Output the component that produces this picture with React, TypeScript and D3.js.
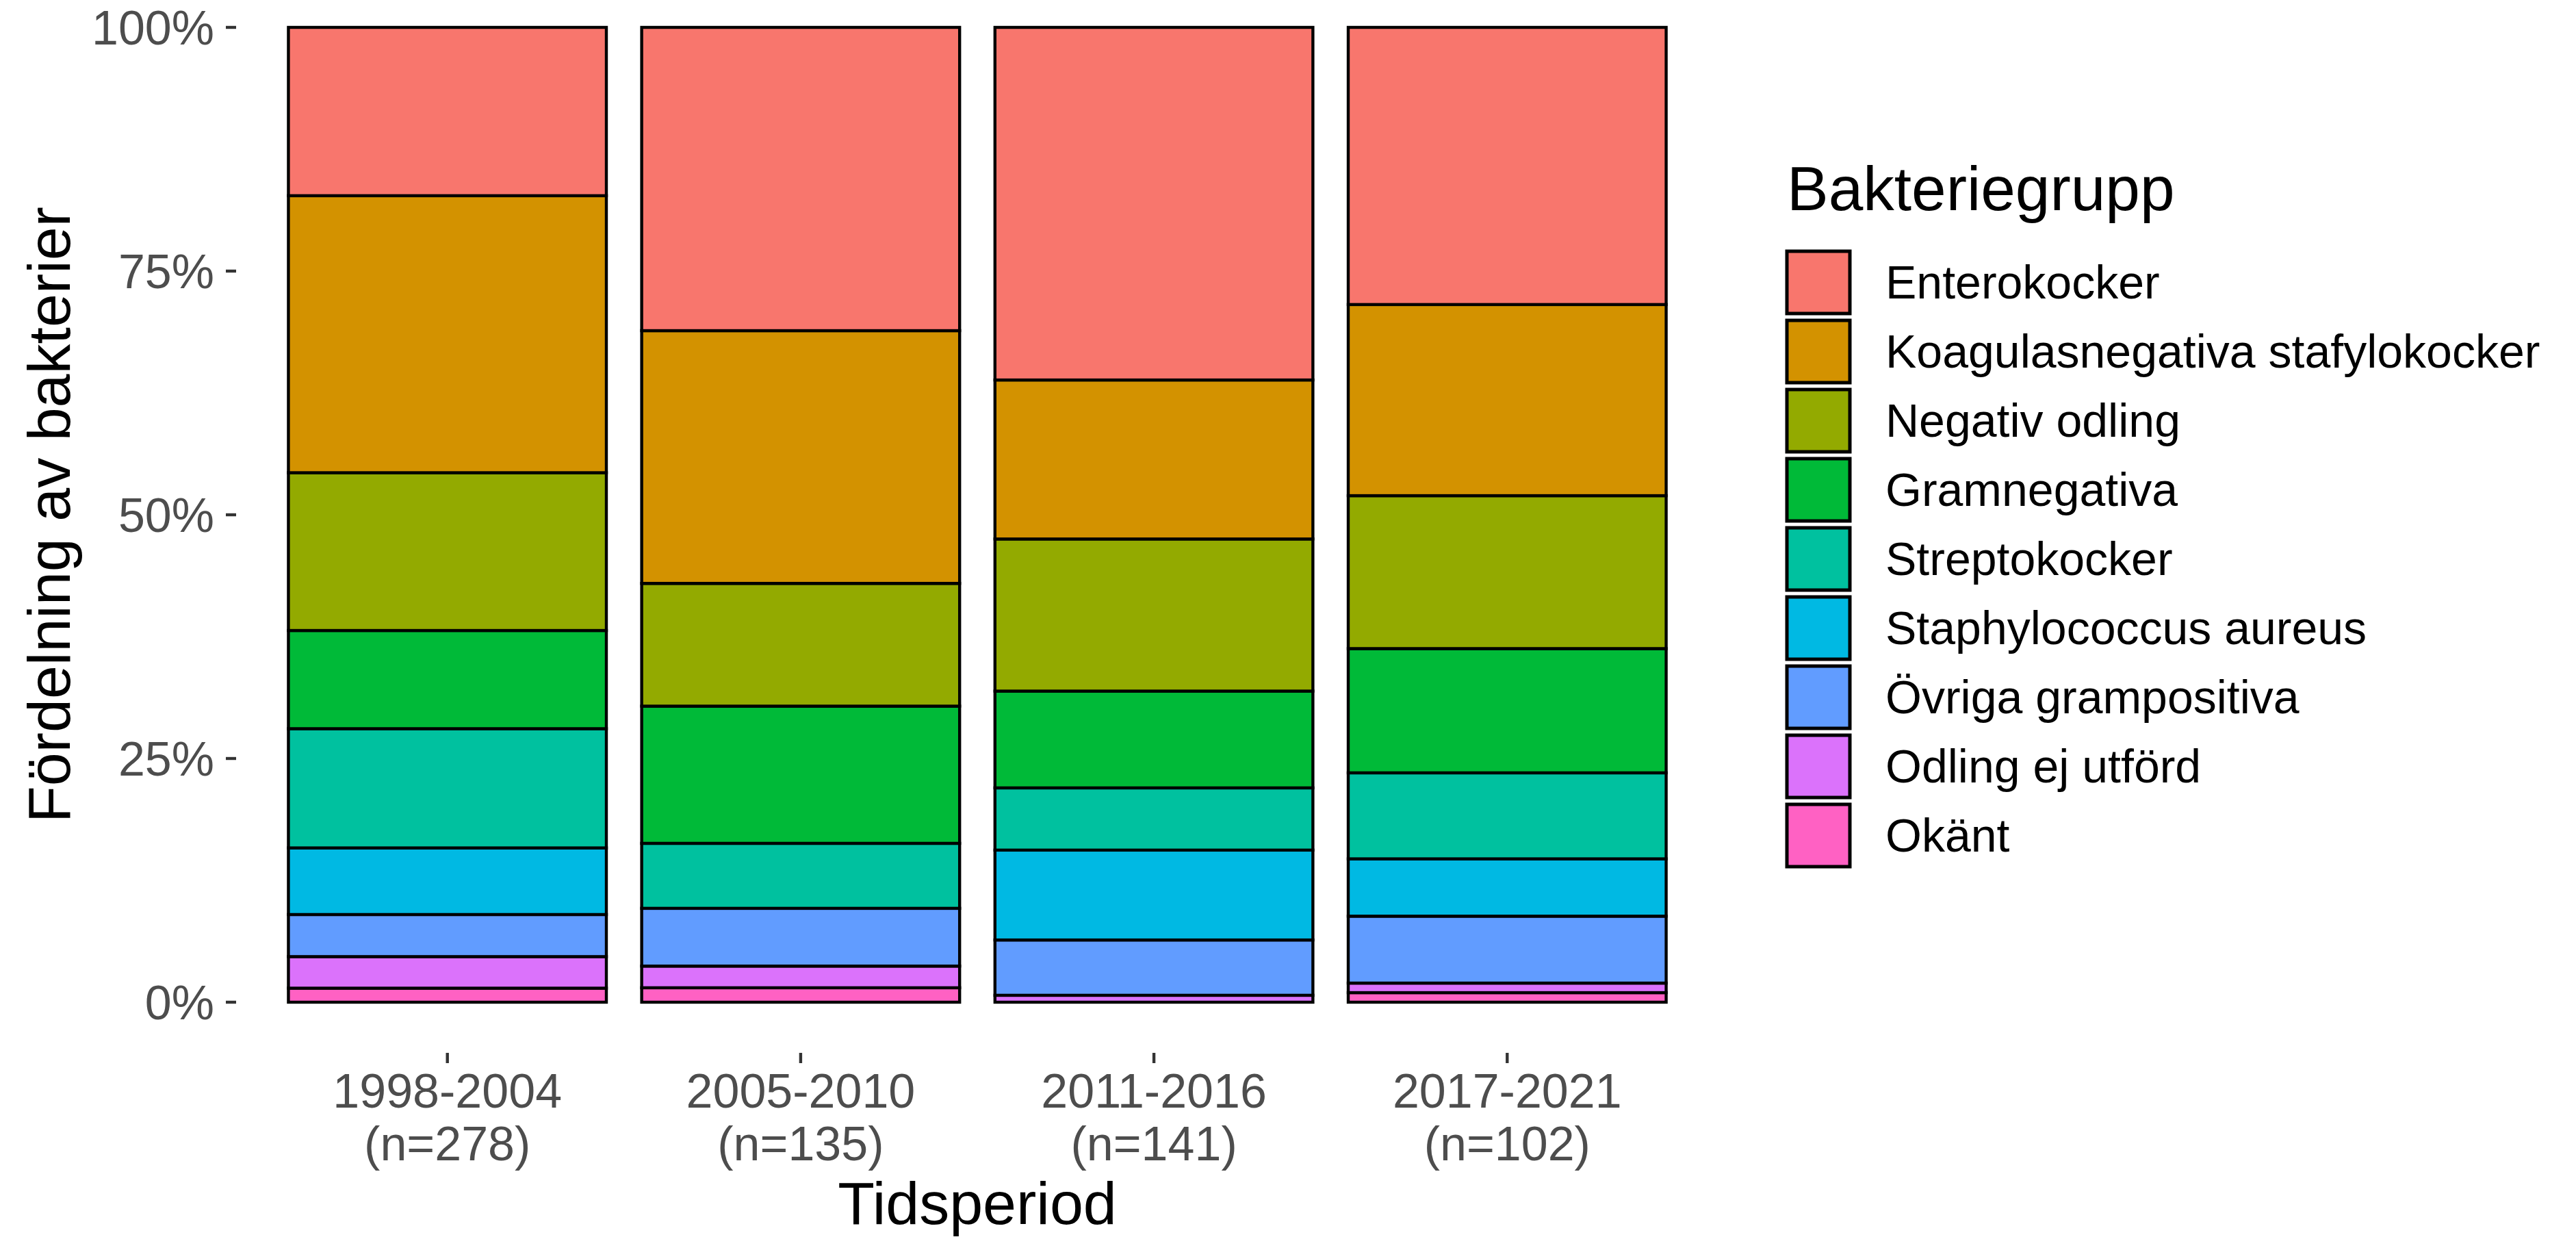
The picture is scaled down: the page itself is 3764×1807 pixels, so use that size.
import React from 'react';
import * as d3 from 'd3';

const periods = ['1998-2004', '2005-2010', '2011-2016', '2017-2021'];
const periodN = [278, 135, 141, 102];

// legend order (top of the stack first)
const groups = [
    'Enterokocker',
    'Koagulasnegativa stafylokocker',
    'Negativ odling',
    'Gramnegativa',
    'Streptokocker',
    'Staphylococcus aureus',
    'Övriga grampositiva',
    'Odling ej utförd',
    'Okänt',
];

// counts per period
const enterokocker = [48, 42, 51, 29];
const koagulasneg = [79, 35, 23, 20];
const negativOdling = [45, 17, 22, 16];
const gramnegativa = [28, 19, 14, 13];
const streptokocker = [34, 9, 9, 9];
const staphAureus = [19, 0, 13, 6];
const ovrigaGrampos = [12, 8, 8, 7];
const odlingEjUtford = [9, 3, 1, 1];
const okant = [4, 2, 0, 1];

const groupCounts = [
    enterokocker, koagulasneg, negativOdling, gramnegativa, streptokocker,
    staphAureus, ovrigaGrampos, odlingEjUtford, okant,
];

const groupColors = ['#F8766D', '#D39200', '#93AA00', '#00BA38', '#00C19F', '#00B9E3', '#619CFF', '#DB72FB', '#FF61C3'];

const yTicks = [0, 0.25, 0.5, 0.75, 1];

const W = 3764;
const H = 1807;
const FONT = '"Liberation Sans", Arial, Helvetica, sans-serif';

const App: React.FC = () => {
    const x = d3.scaleBand<string>()
        .domain(periods)
        .range([344, 2512])
        .paddingInner(0.1)
        .paddingOuter(0.15);

    const y = d3.scaleLinear().domain([0, 1]).range([1464, 40]);

    const color = d3.scaleOrdinal<string, string>().domain(groups).range(groupColors);

    // table of shares, one row per period
    const rows = periods.map((p, i) => {
        const row: Record<string, any> = { period: p };
        groups.forEach((g, gi) => { row[g] = groupCounts[gi][i] / periodN[i]; });
        return row;
    });

    // stack from the bottom: Okänt first
    const stackKeys = groups.slice().reverse();
    const series = d3.stack<Record<string, any>>().keys(stackKeys)(rows);

    const lw = 4.4;

    return (
        <svg width={W} height={H} style={{ position: 'absolute', left: 0, top: 0, background: '#fff' }}
            fontFamily={FONT}>
            <rect width={W} height={H} fill="#fff" />

            {/* bars */}
            {series.map(s => (
                <g key={s.key}>
                    {s.map((d, i) => {
                        const h = y(d[0]) - y(d[1]);
                        if (h <= 0) return null;
                        return (
                            <rect key={i}
                                x={x(d.data.period)!}
                                y={y(d[1])}
                                width={x.bandwidth()}
                                height={h}
                                fill={color(s.key)}
                                stroke="#000"
                                strokeWidth={lw} />
                        );
                    })}
                </g>
            ))}

            {/* y axis */}
            {yTicks.map(t => (
                <g key={t}>
                    <line x1={330} x2={345} y1={y(t)} y2={y(t)} stroke="#333333" strokeWidth={lw} />
                    <text x={313} y={y(t)} dy="0.35em" textAnchor="end" fontSize={70} fill="#4D4D4D">
                        {d3.format('.0%')(t)}
                    </text>
                </g>
            ))}
            <text transform={`translate(102,752) rotate(-90)`} textAnchor="middle" fontSize={88} fill="#000">
                Fördelning av bakterier
            </text>

            {/* x axis */}
            {periods.map((p, i) => {
                const cx = x(p)! + x.bandwidth() / 2;
                return (
                    <g key={p}>
                        <line x1={cx} x2={cx} y1={1538} y2={1553} stroke="#333333" strokeWidth={lw} />
                        <text x={cx} y={1618} textAnchor="middle" fontSize={70} fill="#4D4D4D">{p}</text>
                        <text x={cx} y={1695} textAnchor="middle" fontSize={70} fill="#4D4D4D">{`(n=${periodN[i]})`}</text>
                    </g>
                );
            })}
            <text x={1428} y={1788} textAnchor="middle" fontSize={88} fill="#000">Tidsperiod</text>

            {/* legend */}
            <text x={2611} y={307} fontSize={91} fill="#000">Bakteriegrupp</text>
            {groups.map((g, i) => {
                const top = 362 + i * 101;
                return (
                    <g key={g}>
                        <rect x={2611} y={top + 5} width={92} height={91}
                            fill={color(g)} stroke="#000" strokeWidth={5} />
                        <text x={2755} y={top + 50} dy="0.35em" fontSize={68} fill="#000">{g}</text>
                    </g>
                );
            })}
        </svg>
    );
};

export default App;
